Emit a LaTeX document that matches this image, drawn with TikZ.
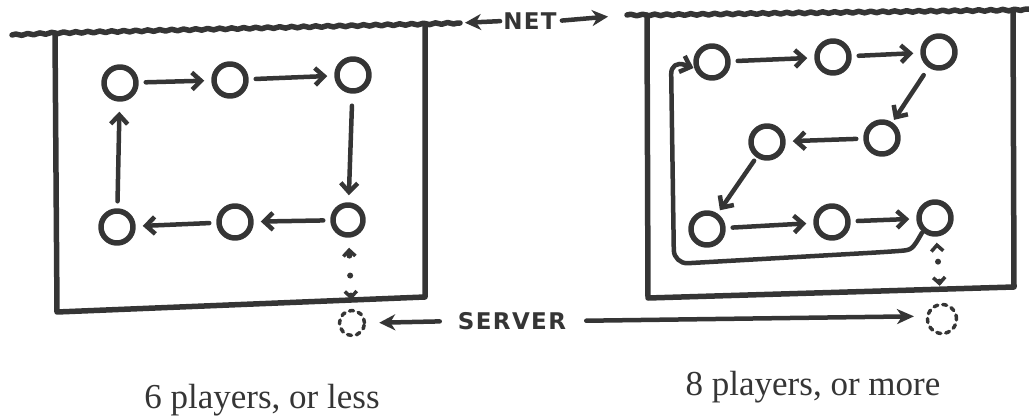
\documentclass[tikz,border=0pt]{standalone}
\usepackage{fontspec}
\setmainfont{Liberation Serif}
\newfontfamily\handfont[LetterSpace=6]{DejaVu Sans Bold}
\usetikzlibrary{arrows.meta,decorations.pathmorphing}
\definecolor{inkc}{HTML}{353535}
\begin{document}
\begin{tikzpicture}[x=1pt,y=1pt,line join=round,line cap=round,
  boxline/.style={draw=inkc,line width=5.5pt},
  netline/.style={draw=inkc,line width=5.5pt,decorate,decoration={snake,amplitude=0.8pt,segment length=12pt}},
  player/.style={circle,draw=inkc,line width=5.5pt,minimum size=32pt,inner sep=0pt},
  server/.style={circle,draw=inkc,line width=3.5pt,dash pattern=on 4pt off 5pt,minimum size=25pt,inner sep=0pt},
  flow/.style={draw=inkc,line width=4.5pt,-{Straight Barb[length=9pt,width=17pt,line width=4.5pt]},shorten <=7pt,shorten >=7pt},
  dotlink/.style={draw=inkc,line width=6pt,dash pattern=on 0pt off 20pt,line cap=round,
     {Straight Barb[length=6pt,width=12pt,line width=3.5pt]}-{Straight Barb[length=6pt,width=12pt,line width=3.5pt]}},
  fat/.style={draw=inkc,line width=4.5pt,-{Stealth[length=16pt,width=16pt,inset=5pt]}},
  hand/.style={inner sep=0pt,text=inkc,font=\handfont\fontsize{23}{28}\selectfont},
  caption/.style={inner sep=0pt,text=inkc,anchor=base,font=\fontsize{35}{40}\selectfont}]
\useasboundingbox (0,0) rectangle (1029,-420);

% ---- left box and net
\coordinate (n0) at (12,-35);
\coordinate (a1) at (55,-33);
\coordinate (a2) at (57,-312);
\coordinate (a3) at (425,-297);
\coordinate (a4) at (425,-24);
\coordinate (n1) at (460,-23);
\draw[netline] (n0) -- (a1) -- (a4) -- (n1);
\draw[boxline] (a1) -- (a2) -- (a3) -- (a4);

% ---- right box and net
\coordinate (m0) at (627,-15);
\coordinate (b1) at (647,-15);
\coordinate (b2) at (648,-298);
\coordinate (b3) at (1014,-287);
\coordinate (b4) at (1013,-10);
\coordinate (m1) at (1029,-9);
\draw[netline] (m0) -- (b1) -- (b4) -- (m1);
\draw[boxline] (b1) -- (b2) -- (b3) -- (b4);

% ---- NET label
\node[hand] (net) at (530,-21) {NET};
\draw[fat,shorten >=5pt,shorten <=3pt] (net.west) -- (n1);
\draw[fat,shorten >=19pt,shorten <=5pt] (net.east) -- (m0);

% ---- left players
\node[player] (L1) at (120,-83) {};
\node[player] (L2) at (230,-80) {};
\node[player] (L3) at (353,-75) {};
\node[player] (L4) at (117,-227) {};
\node[player] (L5) at (235,-222) {};
\node[player,minimum size=30pt] (L6) at (348,-220) {};
\draw[flow] (L1) -- (L2);
\draw[flow] (L2) -- (L3);
\draw[flow,shorten <=12pt] (L3) -- (L6);
\draw[flow] (L6) -- (L5);
\draw[flow] (L5) -- (L4);
\draw[flow,shorten >=10pt] (L4) -- (L1);

% ---- right players
\node[player] (R1) at (712,-62) {};
\node[player] (R2) at (833,-57) {};
\node[player] (R3) at (939,-52) {};
\node[player] (R4) at (882,-138) {};
\node[player] (R5) at (767,-142) {};
\node[player] (R6) at (707,-229) {};
\node[player] (R7) at (832,-222) {};
\node[player] (R8) at (935,-218) {};
\draw[flow] (R1) -- (R2);
\draw[flow] (R2) -- (R3);
\draw[flow,shorten <=9pt,shorten >=3pt] (R3) -- (R4);
\draw[flow] (R4) -- (R5);
\draw[flow,shorten <=4pt,shorten >=4pt] (R5) -- (R6);
\draw[flow] (R6) -- (R7);
\draw[flow] (R7) -- (R8);
\draw[flow,rounded corners=14pt,shorten <=1pt,shorten >=1pt]
  (R8.228) .. controls (912,-250) .. (885,-252) -- (674,-264) -- (671,-60) -- (R1.200);

% ---- servers
\node[server] (s1) at (352,-323) {};
\node[server,minimum size=29pt] (s2) at (942,-319) {};
\draw[dotlink,shorten <=9pt,shorten >=10pt] (s1) -- (L6);
\draw[dotlink,shorten <=17pt,shorten >=6pt] (s2) -- (R8);

\node[hand] (srv) at (512,-321) {SERVER};
\draw[fat,shorten <=18pt,shorten >=13pt] (srv.west) -- (s1.east);
\draw[draw=inkc,line width=4.5pt,-{Stealth[length=17pt,width=15pt,inset=5pt]},shorten <=20pt,shorten >=12pt] (srv.east) -- (s2.170);

% ---- captions
\node[caption] (c1) at (262,-408) {6 players, or less};
\node[caption] (c2) at (813,-395) {8 players, or more};
\end{tikzpicture}
\end{document}
